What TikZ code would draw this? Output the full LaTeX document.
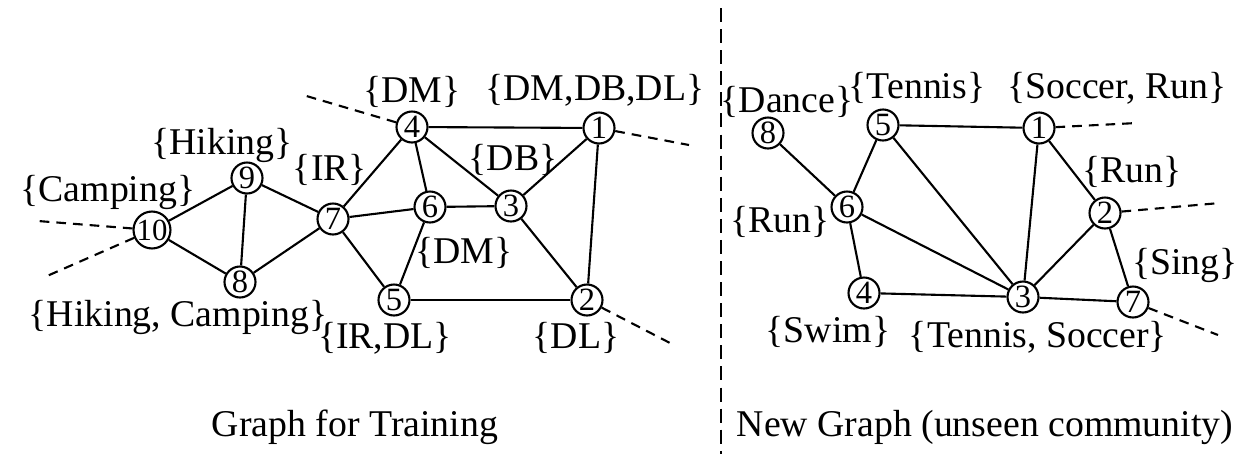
\documentclass[tikz,border=0pt]{standalone}
\usepackage{fontspec}
\setmainfont{Liberation Serif}
\tikzset{
        every picture/.style={line width=1.2pt},
        vert/.style={circle, draw=black, line width=1.2pt, inner sep=0pt, minimum size=0.62cm, fill=white, font=\fontsize{18.5}{18}\selectfont},
        attr/.style={inner sep=1pt, font=\fontsize{21.5}{24}\selectfont},
        outer/.style={dashed, dash pattern=on 5.5pt off 4pt},
        caption/.style={font=\fontsize{21.5}{24}\selectfont}
          }

\begin{document}
\begin{tikzpicture}[x=0.02cm,y=-0.02cm]
  \useasboundingbox (0,0) rectangle (1260,454);

  % graph for training
  \node[vert] (l1) at (599,128) {1};
  \node[vert] (l2) at (587,300) {2};
  \node[vert] (l3) at (511,206) {3};
  \node[vert] (l4) at (412,127) {4};
  \node[vert] (l5) at (394,300) {5};
  \node[vert] (l6) at (430,207) {6};
  \node[vert] (l7) at (333,219) {7};
  \node[vert] (l8) at (240,282) {8};
  \node[vert] (l9) at (247,178) {9};
  \node[vert, font=\fontsize{17.5}{17}\selectfont] (l10) at (152,230) {10};

  \foreach \a/\b in {l10/l9,l10/l8,l9/l8,l9/l7,l8/l7,l7/l4,l7/l6,l7/l5,l4/l6,
                     l4/l3,l4/l1,l6/l3,l6/l5,l3/l1,l3/l2,l1/l2,l5/l2}
    \draw (\a) -- (\b);

  \coordinate (l10a) at (38,221);
  \coordinate (l10b) at (47,276);
  \coordinate (l4a) at (303,95);
  \coordinate (l1a) at (689,145);
  \coordinate (l2a) at (670,343);
  \draw[outer] (l10) -- (l10a);
  \draw[outer] (l10) -- (l10b);
  \draw[outer] (l4) -- (l4a);
  \draw[outer] (l1) -- (l1a);
  \draw[outer] (l2) -- (l2a);

  \node[attr] (camping) at (108,192) {\{Camping\}};
  \node[attr] (hiking) at (222,145) {\{Hiking\}};
  \node[attr] (hikecamp) at (178,317) {\{Hiking, Camping\}};
  \node[attr] (ir) at (330,170) {\{IR\}};
  \node[attr] (dm4) at (412,92) {\{DM\}};
  \node[attr] (dmdbdl) at (595,90) {\{DM,DB,DL\}};
  \node[attr] (db) at (513,160) {\{DB\}};
  \node[attr] (dm6) at (464,253) {\{DM\}};
  \node[attr] (irdl) at (385,338) {\{IR,DL\}};
  \node[attr] (dl) at (576,338) {\{DL\}};

  \node[caption] (train) at (355,427) {Graph for Training};

  % separator
  \coordinate (septop) at (721,8);
  \coordinate (sepbot) at (721,454);
  \draw[line width=1pt, dash pattern=on 8pt off 4pt] (septop) -- (sepbot);

  % new graph
  \node[vert] (r1) at (1039,128) {1};
  \node[vert] (r2) at (1105,213) {2};
  \node[vert] (r3) at (1023,297) {3};
  \node[vert] (r4) at (864,293) {4};
  \node[vert] (r5) at (883,125) {5};
  \node[vert] (r6) at (847,207) {6};
  \node[vert] (r7) at (1133,302) {7};
  \node[vert] (r8) at (768,133) {8};

  \foreach \a/\b in {r8/r6,r6/r5,r6/r3,r6/r4,r5/r1,r5/r3,r1/r3,r1/r2,
                     r2/r3,r2/r7,r4/r3,r3/r7}
    \draw (\a) -- (\b);

  \coordinate (r1a) at (1137,123);
  \coordinate (r2a) at (1220,203);
  \coordinate (r7a) at (1218,335);
  \draw[outer] (r1) -- (r1a);
  \draw[outer] (r2) -- (r2a);
  \draw[outer] (r7) -- (r7a);

  \node[attr] (dance) at (787,102) {\{Dance\}};
  \node[attr] (tennis) at (917,88) {\{Tennis\}};
  \node[attr] (soccerrun) at (1117,88) {\{Soccer, Run\}};
  \node[attr] (run2) at (1132,172) {\{Run\}};
  \node[attr] (run6) at (780,222) {\{Run\}};
  \node[attr] (sing) at (1185,265) {\{Sing\}};
  \node[attr] (swim) at (828,332) {\{Swim\}};
  \node[attr] (tensoc) at (1038,337) {\{Tennis, Soccer\}};

  \node[caption] (unseen) at (985,427) {New Graph (unseen community)};
\end{tikzpicture}
\end{document}
